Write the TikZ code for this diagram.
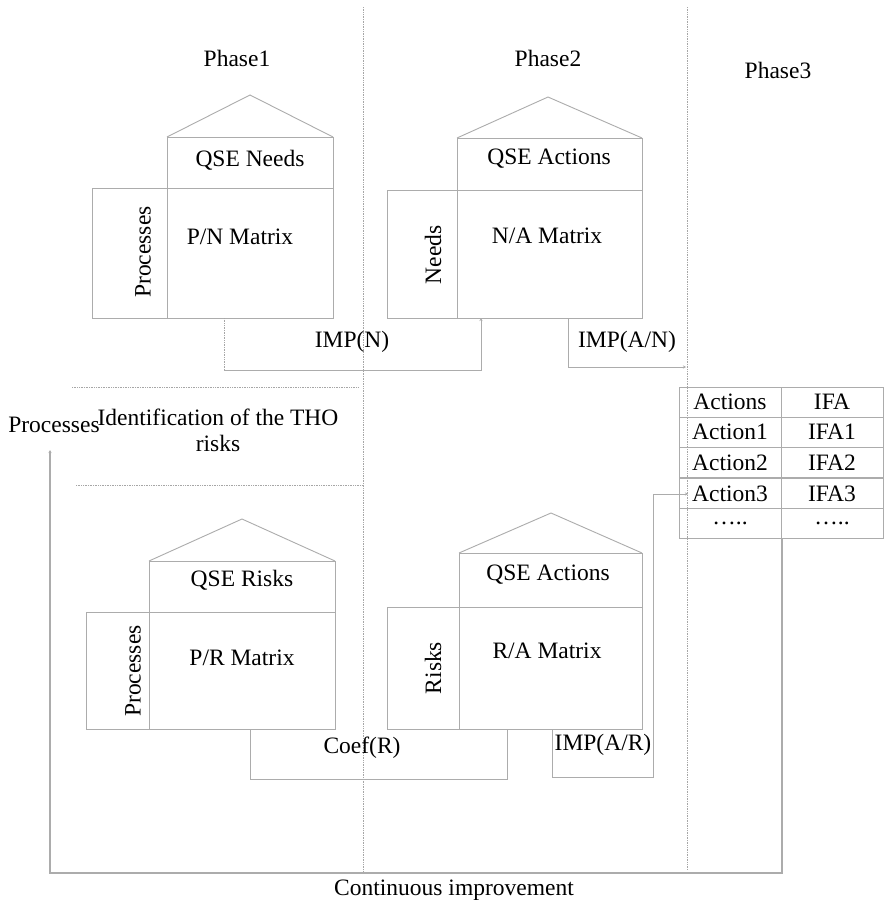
\documentclass[tikz,border=0pt]{standalone}
\usepackage{fontspec}
\setmainfont{Liberation Serif}
\usetikzlibrary{arrows.meta}
\begin{document}
\begin{tikzpicture}[x=1pt,y=-1pt,
  ln/.style={draw=gray!65, line width=0.9pt},
  dotln/.style={draw=gray!70, line width=0.7pt, densely dotted},
  boxn/.style={ln, rectangle, inner sep=0pt, outer sep=0pt},
  txt/.style={font=\fontsize{23.5}{26}\selectfont, inner sep=0pt, text=black},
  tip/.style={-{Stealth[length=3pt,width=3pt]}}
]
\useasboundingbox (0,0) rectangle (885,905);
\fill[white] (0,0) rectangle (885,905);

% phase separators
\coordinate (v1t) at (363,7); \coordinate (v1b) at (363,873);
\coordinate (v2t) at (687,7); \coordinate (v2b) at (687,870);
\draw[dotln] (v1t) -- (v1b);
\draw[dotln] (v2t) -- (v2b);

% phase labels
\node[txt] (ph1) at (237,58) {Phase1};
\node[txt] (ph2) at (548,58) {Phase2};
\node[txt] (ph3) at (778,70) {Phase3};

% ---------- House 1 ----------
\node[boxn, minimum width=166pt, minimum height=51pt] (h1) at (250,162.5) {};
\node[boxn, minimum width=166pt, minimum height=130pt] (m1) at (250,253) {};
\node[boxn, minimum width=75pt, minimum height=130pt] (s1) at (129.5,253) {};
\coordinate (a1) at (250,95);
\draw[ln] (h1.north west) -- (a1) -- (h1.north east);
\node[txt] (h1t) at (250,160) {QSE Needs};
\node[txt] (m1t) at (240,237) {P/N Matrix};
\node[txt, rotate=90] (s1t) at (143,252) {Processes};

% ---------- House 2 ----------
\node[boxn, minimum width=185pt, minimum height=52pt] (h2) at (549.5,164) {};
\node[boxn, minimum width=185pt, minimum height=128pt] (m2) at (549.5,254) {};
\node[boxn, minimum width=70pt, minimum height=128pt] (s2) at (422,254) {};
\coordinate (a2) at (548,97);
\draw[ln] (h2.north west) -- (a2) -- (h2.north east);
\node[txt] (h2t) at (549,159) {QSE Actions};
\node[txt] (m2t) at (547,236) {N/A Matrix};
\node[txt, rotate=90] (s2t) at (433,255) {Needs};

% ---------- House 3 ----------
\node[boxn, minimum width=186pt, minimum height=51pt] (h3) at (242,586.5) {};
\node[boxn, minimum width=186pt, minimum height=117pt] (m3) at (242,670.5) {};
\node[boxn, minimum width=63pt, minimum height=117pt] (s3) at (117.5,670.5) {};
\coordinate (a3) at (242,519);
\draw[ln] (h3.north west) -- (a3) -- (h3.north east);
\node[txt] (h3t) at (242,580) {QSE Risks};
\node[txt] (m3t) at (242,658) {P/R Matrix};
\node[txt, rotate=90] (s3t) at (133,671) {Processes};

% ---------- House 4 ----------
\node[boxn, minimum width=183pt, minimum height=54pt] (h4) at (550.5,580) {};
\node[boxn, minimum width=183pt, minimum height=122pt] (m4) at (550.5,668) {};
\node[boxn, minimum width=72pt, minimum height=122pt] (s4) at (423,668) {};
\coordinate (a4) at (551,513);
\draw[ln] (h4.north west) -- (a4) -- (h4.north east);
\node[txt] (h4t) at (548,575) {QSE Actions};
\node[txt] (m4t) at (547,651) {R/A Matrix};
\node[txt, rotate=90] (s4t) at (433,668) {Risks};

% ---------- IMP(N) ----------
\coordinate (n1) at (224,318);
\coordinate (n2) at (224,370);
\coordinate (n3) at (481,370);
\coordinate (n4) at (481,318);
\draw[dotln] (n1) -- (n2);
\draw[ln, tip] (n2) -- (n3) -- (n4);
\node[txt] (impn) at (352,342) {IMP(N)};

% ---------- IMP(A/N) ----------
\coordinate (an1) at (568,318);
\coordinate (an2) at (568,367);
\coordinate (an3) at (686,367);
\draw[ln, tip] (an1) -- (an2) -- (an3);
\node[txt] (impan) at (627,342) {IMP(A/N)};

% ---------- identification ----------
\coordinate (d1a) at (72,387); \coordinate (d1b) at (358,387);
\coordinate (d2a) at (76,485); \coordinate (d2b) at (362,485);
\draw[dotln] (d1a) -- (d1b);
\draw[dotln] (d2a) -- (d2b);
\node[txt, align=center] (ident) at (218,430) {Identification of the THO\\risks};
\node[txt] (proc) at (54,425) {Processes};

% ---------- table ----------
\foreach \r/\y/\ta/\tb in {1/402/Actions/IFA, 2/432/Action1/IFA1, 3/462.5/Action2/IFA2, 4/493.5/Action3/IFA3, 5/523.5/…../…..}{
  \node[boxn, minimum width=102pt, minimum height=30pt, txt, draw=gray!65] (ta\r) at (730,\y) {\ta};
  \node[boxn, minimum width=102pt, minimum height=30pt, txt, draw=gray!65] (tb\r) at (832,\y) {\tb};
}

% ---------- Coef(R) ----------
\coordinate (c1) at (250,729);
\coordinate (c2) at (250,779);
\coordinate (c3) at (507,779);
\coordinate (c4) at (507,729);
\draw[ln] (c1) -- (c2) -- (c3) -- (c4);
\node[txt] (coef) at (362,748) {Coef(R)};

% ---------- IMP(A/R) ----------
\coordinate (r1) at (552,729);
\coordinate (r2) at (552,777);
\coordinate (r3) at (653,777);
\coordinate (r4) at (653,494);
\coordinate (r5) at (688,494);
\draw[ln, tip] (r1) -- (r2) -- (r3) -- (r4) -- (r5);
\node[txt] (impar) at (603,745) {IMP(A/R)};

% ---------- continuous improvement loop ----------
\coordinate (l1) at (782,538.5);
\coordinate (l2) at (782,873);
\coordinate (l3) at (50,873);
\coordinate (l4) at (50,450);
\draw[ln, line width=1.2pt, tip] (l1) -- (l2) -- (l3) -- (l4);
\node[txt] (cont) at (454,890) {Continuous improvement};
\end{tikzpicture}
\end{document}
